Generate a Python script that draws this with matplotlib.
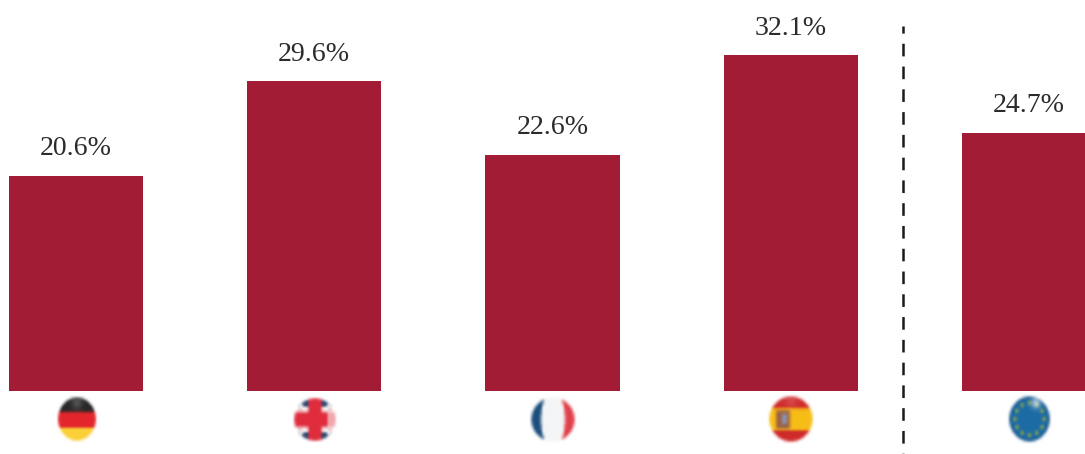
import matplotlib
matplotlib.use("Agg")
import matplotlib.pyplot as plt
import numpy as np

countries = ["de", "uk", "fr", "es", "eu"]
values = [20.6, 29.6, 22.6, 32.1, 24.7]
labels = ["20.6%", "29.6%", "22.6%", "32.1%", "24.7%"]

BAR_COLOR = "#a21c36"
TEXT_COLOR = "#2b2b2b"
GRID = 88
CELL = 4

# pixels per data unit, used to size the flags under the bars
PX_X = 238.25
PX_Y = 10.46
# half width, half height, centre below the baseline (all in px)
flag_size = {
    "de": (20.5, 23.5, 28.5),
    "uk": (22.5, 23.0, 29.0),
    "fr": (23.5, 24.0, 29.0),
    "es": (23.5, 24.5, 28.5),
    "eu": (22.0, 24.5, 28.5),
}


def paint(img, mask, color):
    img[mask] = np.array(matplotlib.colors.to_rgb(color))


def shade(img, u, v, strength, cu, cv, spread):
    # soft round glint on top of the flag
    glow = strength * np.exp(-((u - cu) ** 2 + (v - cv) ** 2) / spread)
    img += (1 - img) * glow[..., None]


def flag_de(img, u, v):
    paint(img, v < -0.34, "#262626")
    paint(img, (v >= -0.34) & (v < 0.40), "#e3262b")
    paint(img, v >= 0.40, "#fbcf38")
    shade(img, u, v, 0.22, 0.0, -0.75, 0.08)


def flag_uk(img, u, v):
    paint(img, np.ones_like(u, dtype=bool), "#f6f3f3")
    blue = (np.abs(v) > 0.6) & (np.abs(u) > 0.28) & (np.abs(np.abs(u) - np.abs(v)) > 0.08)
    paint(img, blue, "#24466f")
    paint(img, np.abs(v) < 0.36, "#e02d3c")
    paint(img, np.abs(u) < 0.33, "#e02d3c")
    paint(img, (u > 0.6) & (np.abs(v) < 0.36), "#f0a6ac")
    paint(img, (np.abs(np.abs(u) - 0.72) < 0.06) & (np.abs(np.abs(v) - 0.48) < 0.05), "#e98a92")


def flag_fr(img, u, v):
    paint(img, np.ones_like(u, dtype=bool), "#f4f5f6")
    edge = 0.28 + 0.27 * np.sqrt(np.clip(1 - v ** 2, 0, 1))
    paint(img, u < -edge, "#1c4e7c")
    paint(img, u > edge, "#e0404a")


def flag_es(img, u, v):
    paint(img, np.ones_like(u, dtype=bool), "#cf2a2a")
    paint(img, np.abs(v - 0.01) < 0.5, "#f7bd17")
    paint(img, (np.abs(u + 0.37) < 0.32) & (np.abs(v - 0.03) < 0.4), "#9a5f45")
    paint(img, (np.abs(u + 0.3) < 0.12) & (np.abs(v) < 0.22), "#8c93ad")
    shade(img, u, v, 0.15, 0.0, -0.8, 0.08)


def flag_eu(img, u, v):
    paint(img, np.ones_like(u, dtype=bool), "#1d6ba5")
    paint(img, u ** 2 + v ** 2 > 0.8, "#17598f")
    for a in np.arange(12) * np.pi / 6:
        star = (u - 0.72 * np.cos(a)) ** 2 + (v - 0.72 * np.sin(a)) ** 2 < 0.008
        paint(img, star, "#8ea848")
    shade(img, u, v, 0.7, 0.32, -0.72, 0.05)


painters = {"de": flag_de, "uk": flag_uk, "fr": flag_fr, "es": flag_es, "eu": flag_eu}


def flag_image(code):
    # paint large then shrink, bicubic display gives the soft printed edge
    n = GRID
    v, u = np.mgrid[-1.1:1.1:n * 1j, -1.1:1.1:n * 1j]
    img = np.ones((n, n, 3))
    painters[code](img, u, v)
    img[u ** 2 + v ** 2 > 1] = 1.0
    return img.reshape(n // CELL, CELL, n // CELL, CELL, 3).mean(axis=(1, 3))


fig = plt.figure(figsize=(10.85, 4.54), dpi=100)
ax = fig.add_axes([0, 0, 1, 1])

x = np.arange(len(values))
ax.bar(x, values, width=0.5625, color=BAR_COLOR)

for i, val in enumerate(values):
    ax.annotate(labels[i], (i, val), xytext=(0, 14.6), textcoords="offset points",
                ha="center", va="baseline", fontsize=20.1, color=TEXT_COLOR,
                family="Liberation Serif")

for i, code in enumerate(countries):
    half_w, half_h, below = flag_size[code]
    ax.imshow(flag_image(code),
              extent=(i - half_w / PX_X, i + half_w / PX_X,
                      -(below + half_h) / PX_Y, -(below - half_h) / PX_Y),
              aspect="auto", interpolation="bicubic", zorder=2)

# divider between the countries and the EU average
ax.plot([3.473, 3.473], [34.9, -6.02], color="#1a1a1a", lw=1.8,
        linestyle=(2.2, (5.05, 4.06)), dash_capstyle="butt")

ax.set_xlim(-0.319, 4.235)
ax.set_ylim(-6.02, 37.38)
ax.axis("off")

fig.savefig("out.png", dpi=100)
